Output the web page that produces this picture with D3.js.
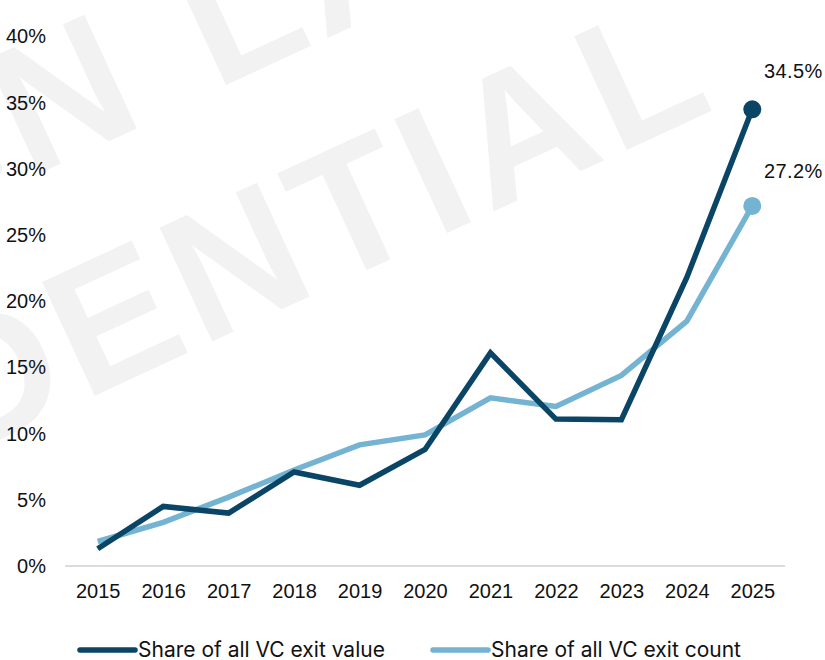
<!DOCTYPE html>
<html><head><meta charset="utf-8">
<script src="https://cdn.jsdelivr.net/npm/d3@7"></script>
<style>
html,body{margin:0;padding:0;background:#fff;}
svg{display:block;}
text{font-family:"Liberation Sans",Arial,sans-serif;}
</style></head>
<body>
<svg id="chart" width="825" height="660"></svg>
<script>
const years = ["2015","2016","2017","2018","2019","2020","2021","2022","2023","2024","2025"];
const exitValueShare = [1.3, 4.5, 4.0, 7.1, 6.1, 8.8, 16.1, 11.1, 11.05, 21.8, 34.5];
const exitCountShare = [1.85, 3.3, 5.2, 7.25, 9.15, 9.9, 12.7, 12.05, 14.4, 18.5, 27.2];
const yTicks = [0, 5, 10, 15, 20, 25, 30, 35, 40];
const seriesNames = ["Share of all VC exit value", "Share of all VC exit count"];
const colors = ["#0b4566", "#74b3d1"];

const svg = d3.select("#chart");

// watermark
const wm = svg.append("g").attr("fill", "#f2f2f2")
  .style("font-family", "'DejaVu Sans', sans-serif").style("font-weight", "bold")
  .style("font-size", "182px").style("letter-spacing", "8px");
wm.append("text").attr("transform", "translate(155,120) rotate(-24.8)").attr("text-anchor", "end").text("DESIGN");
wm.append("text").attr("transform", "translate(215,90) rotate(-24.8)").attr("text-anchor", "start").text("LAYOUT");
wm.append("text").attr("transform", "translate(724,105) rotate(-24.8)").attr("text-anchor", "end").text("CONFIDENTIAL");

const x = d3.scalePoint().domain(years).range([65, 785]).padding(0.5);
const y = d3.scaleLinear().domain([0, 40]).range([566, 36.5]);

// x axis
const xAxis = svg.append("g").attr("transform", "translate(0,566)")
  .call(d3.axisBottom(x).tickSize(0).tickPadding(18));
xAxis.select(".domain").attr("stroke", "#d0d0d0").attr("stroke-width", 1.6).attr("d", "M65,0H785");
xAxis.selectAll("text").attr("fill", "#111").style("font-size", "20px");

// y axis (labels only)
const yAxis = svg.append("g").attr("transform", "translate(46,0)")
  .call(d3.axisLeft(y).tickValues(yTicks).tickFormat(d => d + "%").tickSize(0).tickPadding(0));
yAxis.select(".domain").remove();
yAxis.selectAll("text").attr("fill", "#111").style("font-size", "20px");

const line = d3.line().x((d, i) => x(years[i])).y(d => y(d));
[exitCountShare, exitValueShare].forEach((s, k) => {
  const c = k === 0 ? colors[1] : colors[0];
  svg.append("path").datum(s).attr("d", line).attr("fill", "none")
    .attr("stroke", c).attr("stroke-width", 5.5).attr("stroke-linejoin", "miter");
});
// end dots and labels
[[exitValueShare, colors[0], -38], [exitCountShare, colors[1], -35]].forEach(([s, c, dy]) => {
  const last = s.length - 1;
  svg.append("circle").attr("cx", x(years[last])).attr("cy", y(s[last])).attr("r", 9).attr("fill", c);
  svg.append("text").attr("x", x(years[last]) + 41).attr("y", y(s[last]) + dy).attr("dy", "0.35em")
    .attr("text-anchor", "middle").attr("fill", "#111").style("font-size", "20px")
    .style("letter-spacing", "0.4px").text(s[last].toFixed(1) + "%");
});

// legend
const legendX = [80, 433];
seriesNames.forEach((n, i) => {
  const g = svg.append("g");
  g.append("line").attr("x1", legendX[i]).attr("x2", legendX[i] + 55).attr("y1", 650).attr("y2", 650)
    .attr("stroke", colors[i]).attr("stroke-width", 5.5).attr("stroke-linecap", "round");
  g.append("text").attr("x", legendX[i] + 58).attr("y", 650).attr("dy", "0.35em")
    .attr("fill", "#111").style("font-family", "Inter, sans-serif").style("font-size", "21px").text(n);
});
</script>
</body></html>
